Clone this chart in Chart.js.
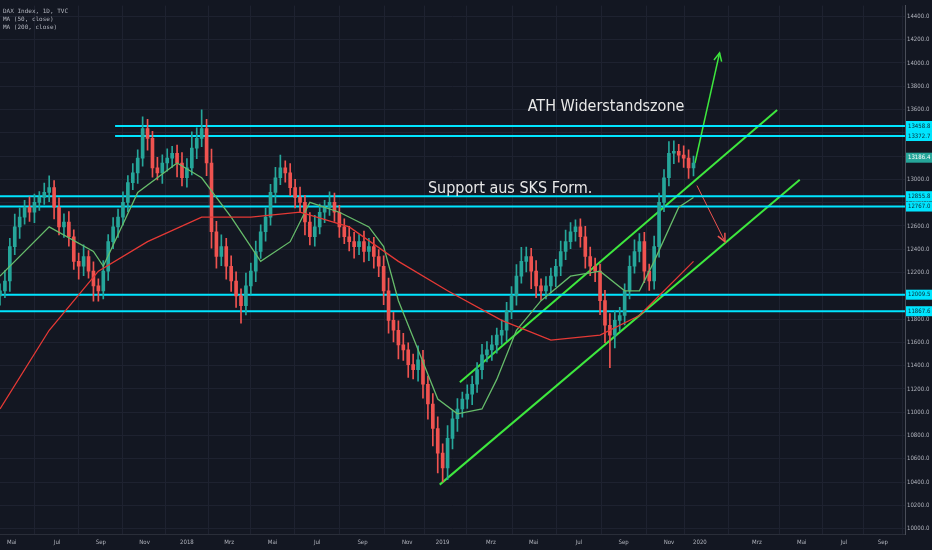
<!DOCTYPE html>
<html>
<head>
<meta charset="utf-8">
<script src="https://cdn.jsdelivr.net/npm/chart.js@4.4.1/dist/chart.umd.min.js"></script>
<style>
  html, body { margin: 0; padding: 0; background: #131722; }
  #wrap { width: 932px; height: 550px; position: relative; }
</style>
</head>
<body>
<div id="wrap"><canvas id="c"></canvas></div>
<script>
// Wochenkerzen DAX, Woche 0 = Ende Apr 2017
const closes = [
  12043, 12127, 12423, 12592, 12676, 12761, 12718, 12803, 12845, 12888,
  12930, 12761, 12592, 12634, 12507, 12296, 12254, 12338, 12212, 12085,
  12043, 12212, 12465, 12592, 12676, 12803, 12972, 13056, 13183, 13437,
  13352, 13099, 13056, 13141, 13183, 13225, 13141, 13014, 13099, 13268,
  13352, 13437, 13141, 12550, 12338, 12423, 12254, 12127, 12000, 11916,
  12085, 12212, 12381, 12550, 12676, 12888, 13014, 13099, 13056, 12930,
  12845, 12803, 12634, 12507, 12592, 12718, 12761, 12803, 12718, 12592,
  12507, 12465, 12423, 12465, 12381, 12423, 12338, 12254, 12043, 11789,
  11704, 11578, 11536, 11409, 11366, 11451, 11240, 11071, 10860, 10648,
  10521, 10775, 10944, 11028, 11113, 11155, 11240, 11366, 11493, 11536,
  11578, 11662, 11704, 11874, 12000, 12169, 12296, 12338, 12212, 12085,
  12043, 12085, 12169, 12254, 12381, 12465, 12550, 12592, 12507, 12338,
  12254, 12212, 11958, 11747, 11662, 11789, 11831, 12043, 12254, 12381,
  12465, 12212, 12127, 12423, 12803, 13014, 13225, 13242, 13209, 13183,
  13099, 13141,
];
const wickUp = [
  60, 90, 70, 110, 80, 60, 90, 70, 50, 80, 100, 60, 80, 70, 90, 60, 70, 100, 50, 80,
  60, 90, 60, 80, 70, 90, 60, 80, 70, 100, 80, 60, 90, 70, 80, 60, 70, 90, 80, 140,
  90, 160, 80, 120, 90, 100, 70, 90, 80, 60, 110, 70, 90, 60, 80, 70, 90, 110, 60, 80,
  70, 90, 60, 80, 100, 70, 60, 90, 80, 60, 70, 90, 80, 60, 90, 70, 80, 60, 90, 110,
  70, 80, 100, 60, 90, 120, 80, 70, 90, 100, 80, 110, 70, 90, 60, 80, 70, 60, 90, 70,
  80, 60, 90, 70, 80, 100, 120, 80, 70, 90, 60, 80, 70, 60, 90, 100, 80, 60, 70, 90,
  80, 70, 60, 90, 100, 80, 70, 60, 90, 100, 70, 80, 60, 90, 80, 70, 100, 90, 60, 80,
  70, 60,
];
const wickDown = [
  80, 60, 90, 70, 100, 60, 80, 90, 70, 60, 80, 100, 70, 90, 80, 70, 110, 80, 60, 130,
  90, 70, 80, 60, 90, 70, 80, 60, 90, 70, 100, 80, 60, 90, 70, 80, 120, 70, 80, 60,
  90, 70, 110, 140, 100, 80, 110, 90, 100, 150, 80, 70, 90, 60, 80, 70, 90, 60, 80, 70,
  90, 80, 110, 70, 80, 60, 90, 70, 80, 90, 60, 80, 100, 70, 90, 80, 100, 90, 120, 110,
  100, 120, 90, 110, 80, 100, 120, 130, 150, 170, 120, 100, 90, 110, 70, 80, 90, 70, 80, 60,
  90, 70, 80, 90, 70, 80, 60, 90, 150, 100, 80, 70, 60, 90, 80, 70, 60, 80, 90, 100,
  80, 90, 120, 150, 280, 110, 90, 80, 70, 60, 90, 100, 80, 70, 90, 80, 70, 90, 60, 80,
  90, 70,
];
const firstOpen = 12000;

// gleitende Durchschnitte [Woche, Kurs]
const ma50 = [
  [0, 12169], [10, 12592], [19, 12381], [21, 12254], [28, 12888], [36, 13141], [41, 13014],
  [47, 12676], [53, 12296], [59, 12465], [63, 12803], [69, 12718], [75, 12592], [78, 12423],
  [81, 11958], [85, 11536], [89, 11113], [93, 10986], [98, 11028], [101, 11282], [105, 11704],
  [110, 11958], [116, 12169], [122, 12212], [127, 12043], [130, 12043], [133, 12296],
  [138, 12761], [141, 12845],
];
const ma200 = [
  [0, 11028], [10, 11704], [20, 12212], [30, 12465], [41, 12676], [51, 12676], [61, 12718],
  [71, 12592], [81, 12296], [91, 12043], [102, 11789], [112, 11620], [122, 11662],
  [130, 11831], [141, 12296],
];

// Zeichnungen
const hLevels = [13458.8, 13372.7, 12855.8, 12767.0, 12009.5, 11867.6];
const hStart = [23.4, 23.4, 0, 0, 0, 0];
const channelUpper = [[93.5, 11257], [158, 13597]];
const channelLower = [[89.4, 10378], [162.6, 12997]];
const arrowUp = [[141.3, 13141], [146.3, 14087]];
const arrowDown = [[141.7, 12947], [147.4, 12465]];
const lastPrice = 13186.4;

const monthLabels = ['Mai', 'Jul', 'Sep', 'Nov', '2018', 'Mrz', 'Mai', 'Jul', 'Sep', 'Nov', '2019', 'Mrz',
  'Mai', 'Jul', 'Sep', 'Nov', '2020', 'Mrz', 'Mai', 'Jul', 'Sep'];
const monthWeeks = [2.4, 11.6, 20.5, 29.4, 38.0, 46.6, 55.4, 64.5, 73.7, 82.8, 90.0, 99.8,
  108.5, 117.7, 126.8, 136.0, 142.3, 153.9, 163.0, 171.6, 179.5];

const UP = '#26a69a', DOWN = '#ef5350', CYAN = '#00e5ff', LIME = '#3ee83e';

const opens = closes.map((c, i) => (i === 0 ? firstOpen : closes[i - 1]));
const colors = closes.map((c, i) => (c >= opens[i] ? UP : DOWN));
const bodies = closes.map((c, i) => ({ x: i, y: [opens[i], c] }));
const wicks = closes.map((c, i) => ({
  x: i, y: [Math.min(opens[i], c) - wickDown[i], Math.max(opens[i], c) + wickUp[i]],
}));
const pts = (arr) => arr.map(([x, y]) => ({ x, y }));

const lineDs = (data, color, width) => ({
  type: 'line', data, borderColor: color, borderWidth: width, pointRadius: 0, tension: 0, fill: false,
});

const datasets = [
  lineDs(pts(ma200), '#e53935', 1.3),
  lineDs(pts(ma50), '#66bb6a', 1.3),
  { type: 'bar', data: wicks, backgroundColor: colors, barThickness: 1, grouped: false },
  { type: 'bar', data: bodies, backgroundColor: colors, barThickness: 3, grouped: false, minBarLength: 1 },
];
hLevels.forEach((lv, i) => datasets.push(lineDs([{ x: hStart[i], y: lv }, { x: 200, y: lv }], CYAN, 2)));
datasets.push(lineDs(pts(channelUpper), LIME, 2));
datasets.push(lineDs(pts(channelLower), LIME, 2));
datasets.push(lineDs(pts(arrowUp), LIME, 1.5));
datasets.push(lineDs(pts(arrowDown), DOWN, 1));

function arrowHead(ctx, x1, y1, x2, y2, color) {
  const a = Math.atan2(y2 - y1, x2 - x1), len = 9;
  ctx.strokeStyle = color; ctx.lineWidth = 1.5;
  ctx.beginPath();
  ctx.moveTo(x2 - len * Math.cos(a - 0.45), y2 - len * Math.sin(a - 0.45));
  ctx.lineTo(x2, y2);
  ctx.lineTo(x2 - len * Math.cos(a + 0.45), y2 - len * Math.sin(a + 0.45));
  ctx.stroke();
}

function priceTag(ctx, y, text, bg, fg, left) {
  ctx.font = '6px "DejaVu Sans Condensed", sans-serif';
  ctx.fillStyle = bg;
  ctx.fillRect(left, y - 5, 27, 10);
  ctx.fillStyle = fg;
  ctx.textAlign = 'left'; ctx.textBaseline = 'middle';
  ctx.fillText(text, left + 2, y);
}

const overlay = {
  id: 'overlay',
  afterDatasetsDraw(chart) {
    const { ctx, scales: { x, y }, chartArea } = chart;
    ctx.save();
    arrowHead(ctx, x.getPixelForValue(arrowUp[0][0]), y.getPixelForValue(arrowUp[0][1]),
      x.getPixelForValue(arrowUp[1][0]), y.getPixelForValue(arrowUp[1][1]), LIME);
    arrowHead(ctx, x.getPixelForValue(arrowDown[0][0]), y.getPixelForValue(arrowDown[0][1]),
      x.getPixelForValue(arrowDown[1][0]), y.getPixelForValue(arrowDown[1][1]), DOWN);

    ctx.fillStyle = '#e8e8e8';
    ctx.font = '16px "Liberation Sans Narrow", "DejaVu Sans Condensed", sans-serif';
    ctx.textAlign = 'left'; ctx.textBaseline = 'middle';
    ctx.fillText('ATH Widerstandszone', x.getPixelForValue(107.3), y.getPixelForValue(13620));
    ctx.fillText('Support aus SKS Form.', x.getPixelForValue(87), y.getPixelForValue(12920));

    ctx.font = '6px "DejaVu Sans Mono", monospace';
    ctx.fillStyle = '#b2b5be';
    ctx.textBaseline = 'top';
    ctx.fillText('DAX Index, 1D, TVC', 3, 8);
    ctx.fillText('MA (50, close)', 3, 16);
    ctx.fillText('MA (200, close)', 3, 24);

    const left = chartArea.right + 1;
    hLevels.forEach((lv) => priceTag(ctx, y.getPixelForValue(lv), lv.toFixed(1), CYAN, '#0b2a33', left));
    priceTag(ctx, y.getPixelForValue(lastPrice), lastPrice.toFixed(1), '#26a69a', '#ffffff', left);
    ctx.restore();
  },
};

new Chart(document.getElementById('c'), {
  data: { datasets },
  options: {
    responsive: true,
    maintainAspectRatio: false,
    animation: false,
    layout: { padding: 0 },
    plugins: { legend: { display: false }, tooltip: { enabled: false } },
    scales: {
      x: {
        type: 'linear', min: 0, max: 184, offset: false,
        grid: { color: '#1e2230', drawTicks: false },
        border: { color: '#2a2e39' },
        afterBuildTicks: (s) => { s.ticks = monthWeeks.map((v) => ({ value: v })); },
        ticks: {
          color: '#b2b5be', font: { size: 6, family: 'DejaVu Sans Condensed' }, padding: 4,
          maxRotation: 0, autoSkip: false,
          callback: (v, i) => monthLabels[i],
        },
      },
      y: {
        position: 'right', min: 9947, max: 14493,
        afterBuildTicks: (s) => {
          const t = [];
          for (let v = 10000; v <= 14400; v += 200) t.push({ value: v });
          s.ticks = t;
        },
        afterFit: (s) => { s.width = 27; },
        grid: { color: '#1e2230', drawTicks: false },
        border: { color: '#4a4e59' },
        ticks: {
          color: '#b2b5be', font: { size: 6, family: 'DejaVu Sans Condensed' }, padding: 2,
          callback: (v) => v.toFixed(1),
        },
      },
    },
  },
  plugins: [overlay],
});
</script>
</body>
</html>
